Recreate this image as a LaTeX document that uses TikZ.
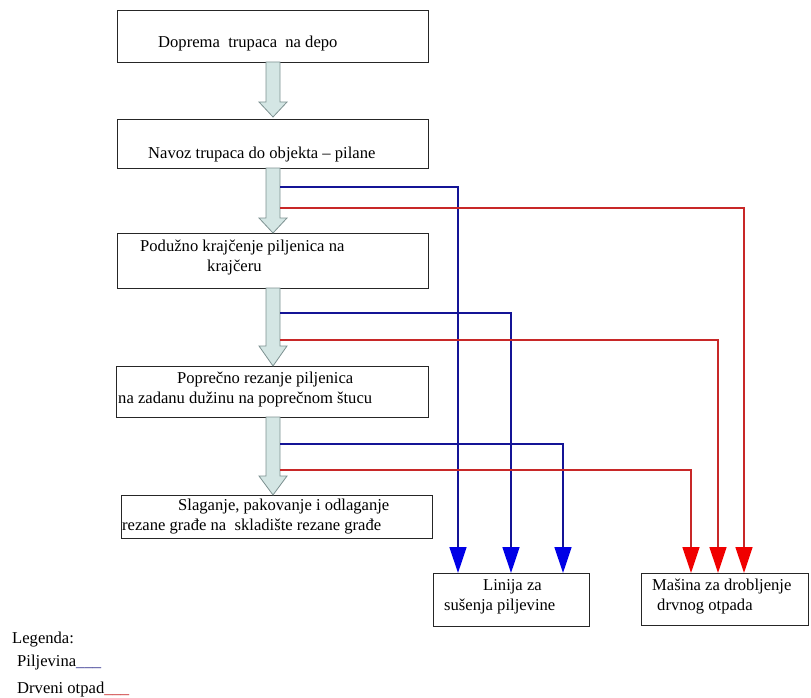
\documentclass[tikz,border=0pt]{standalone}
\usepackage{fontspec}
\setmainfont{Liberation Serif}
\usetikzlibrary{arrows.meta,calc}
\definecolor{shaftfill}{RGB}{212,230,228}
\definecolor{shaftdraw}{RGB}{125,145,145}
\definecolor{pblue}{RGB}{20,20,150}
\definecolor{pred}{RGB}{200,40,40}
\definecolor{tipblue}{RGB}{0,0,230}
\definecolor{tipred}{RGB}{240,0,0}
\newcommand\flowarrow[4]{%
  \draw[shaft] (266,-#2) -- (266,-#3) -- (259,-#3) -- (273,-#4) -- (287,-#3) -- (280,-#3) -- (280,-#2) -- cycle;}
\tikzset{
  box/.style={draw=black!85, line width=0.8pt, fill=white},
  shaft/.style={draw=shaftdraw, fill=shaftfill, line width=0.8pt},
  txt/.style={anchor=base west, inner sep=0pt, font=\fontsize{16.6}{19}\selectfont},
  wood/.style={draw=pblue, line width=1.4pt, -{Triangle[width=17pt,length=26pt,color=tipblue]}},
  waste/.style={draw=pred, line width=1.4pt, -{Triangle[width=17pt,length=26pt,color=tipred]}},
}
\begin{document}
\begin{tikzpicture}[x=1pt,y=1pt]
\useasboundingbox (0,0) rectangle (811,-698);
% boxes
\draw[box] (117,-10) rectangle (428,-62);
\draw[box] (117,-119) rectangle (428,-168);
\draw[box] (117,-233) rectangle (428,-288);
\draw[box] (116,-366) rectangle (428,-417);
\draw[box] (121,-495) rectangle (432,-538);
\node[draw=black!85, line width=0.8pt, minimum width=156pt, minimum height=53pt, anchor=north west, inner sep=0pt] (lin) at (433,-573) {};
\node[draw=black!85, line width=0.8pt, minimum width=167pt, minimum height=52pt, anchor=north west, inner sep=0pt] (mas) at (641,-573) {};
% block arrows
\flowarrow{a1}{62}{102}{117}
\flowarrow{a2}{168}{218}{233}
\flowarrow{a3}{288}{346}{366}
\flowarrow{a4}{417}{476}{495}
% texts
\node[txt] (t1) at (158,-48) {Doprema\ \ trupaca\ \ na depo};
\node[txt] (t2) at (148,-158) {Navoz trupaca do objekta -- pilane};
\node[txt] (t3a) at (140,-251) {Podužno krajčenje piljenica na};
\node[txt] (t3b) at (207,-271) {krajčeru};
\node[txt] (t4a) at (177,-383) {Poprečno rezanje piljenica};
\node[txt] (t4b) at (118,-403) {na zadanu dužinu na poprečnom štucu};
\node[txt] (t5a) at (178,-510) {Slaganje, pakovanje i odlaganje};
\node[txt] (t5b) at (122,-530) {rezane građe na\ \ skladište rezane građe};
\node[txt] (t6a) at (483,-590) {Linija za};
\node[txt] (t6b) at (444,-610) {sušenja piljevine};
\node[txt] (t7a) at (652,-590) {Mašina za drobljenje};
\node[txt] (t7b) at (657,-610) {drvnog otpada};
\node[txt] (leg) at (12,-643) {Legenda:};
\node[txt] (leg1) at (17,-666) {Piljevina\textcolor{pblue!70!gray}{\_\_\_}};
\node[txt] (leg2) at (17,-693) {Drveni otpad\textcolor{pred}{\_\_\_}};
% connector start points
\coordinate (s1b) at (280,-187);
\coordinate (s1r) at (280,-208);
\coordinate (s2b) at (280,-313);
\coordinate (s2r) at (280,-340);
\coordinate (s3b) at (280,-444);
\coordinate (s3r) at (280,-470);
% connector end points on box tops
\coordinate (e1b) at ($(lin.north west)+(25,0)$);
\coordinate (e2b) at ($(lin.north west)+(78,0)$);
\coordinate (e3b) at ($(lin.north west)+(130,0)$);
\coordinate (e1r) at ($(mas.north west)+(103,0)$);
\coordinate (e2r) at ($(mas.north west)+(77,0)$);
\coordinate (e3r) at ($(mas.north west)+(50,0)$);
\draw[wood] (s1b) -| (e1b);
\draw[wood] (s2b) -| (e2b);
\draw[wood] (s3b) -| (e3b);
\draw[waste] (s1r) -| (e1r);
\draw[waste] (s2r) -| (e2r);
\draw[waste] (s3r) -| (e3r);
\end{tikzpicture}
\end{document}
